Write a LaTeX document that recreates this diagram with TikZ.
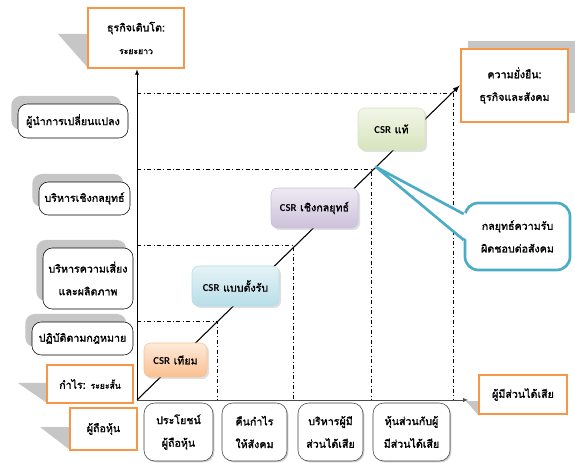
\documentclass[tikz,border=0pt]{standalone}
\usepackage{fontspec}
\newfontfamily\thaifont[Script=Thai, AutoFakeBold=1.6]{Loma}
\newfontfamily\csrfont{Carlito}
\usetikzlibrary{shadows}
\definecolor{boxorange}{HTML}{F79646}
\definecolor{calloutblue}{HTML}{4BACC6}
\definecolor{fakeA}{HTML}{FDEADA}
\definecolor{fakeB}{HTML}{FAC090}
\definecolor{reactA}{HTML}{E6F3F7}
\definecolor{reactB}{HTML}{B7DEE8}
\definecolor{stratA}{HTML}{EEEAF3}
\definecolor{stratB}{HTML}{CCC1DA}
\definecolor{realA}{HTML}{F2F6E9}
\definecolor{realB}{HTML}{D7E4BD}

\begin{document}
\begin{tikzpicture}
[x = 0.75pt, y = -0.75pt,
 every node/.style = {font=\thaifont\bfseries\fontsize{8}{17}\selectfont, align=center, inner sep=1pt},
 wh/.style 2 args = {minimum width=#1*0.75pt, minimum height=#2*0.75pt},
 axisbox/.style = {draw=boxorange, line width=2pt, fill=white},
 wedge/.style = {fill=gray!45},
 levelbox/.style = {draw=black, fill=white, rounded corners=7pt,
   drop shadow={shadow xshift=-5pt, shadow yshift=6pt, fill=gray!45, opacity=1}},
 stepbox/.style = {draw=black!75, fill=white, rounded corners=8pt,
   drop shadow={shadow xshift=1pt, shadow yshift=-1pt, fill=gray!40, opacity=1}},
 csrbox/.style 2 args = {top color=#1, bottom color=#2, draw=#2, rounded corners=5pt,
   drop shadow={shadow xshift=1.5pt, shadow yshift=-1.5pt, opacity=0.25}},
 grid/.style = {dash dot, thin}
 ]
\useasboundingbox (0,0) rectangle (575,463);
\fill [wedge] (58,34) -- (88,34) -- (88,68) -- cycle;
\fill [wedge] (468,41) rectangle (575,113);
\fill [wedge] (18,383) -- (47,383) -- (47,403) -- cycle;
\fill [wedge] (40,427) -- (70,427) -- (70,450) -- cycle;
\fill [wedge] (466,401) -- (479,401) -- (479,416) -- cycle;
\node [axisbox, wh={96}{60}] (grow) at (136,38) {ธุรกิจเติบโต:\\{\fontsize{6.5}{17}\selectfont ระยะยาว}};
\node [axisbox, wh={107}{73}] (sustain) at (514.5,85.5) {ความยั่งยืน:\\ธุรกิจและสังคม};
\node [axisbox, wh={86}{38}] (profit) at (90,384) {กำไร: {\fontsize{6.5}{10}\selectfont ระยะสั้น}};
\node [axisbox, wh={67}{42}] (holder) at (103.5,429) {ผู้ถือหุ้น};
\node [axisbox, wh={88}{39}] (stake) at (523,394.5) {ผู้มีส่วนได้เสีย};
\coordinate (O) at (137,400);
\coordinate (c1) at (217,321);
\coordinate (c2) at (293,245);
\coordinate (c3) at (371,169);
\coordinate (c4) at (453,93);
\draw [grid] (O |- c1) -- (c1) -- (c1 |- O);
\draw [grid] (O |- c2) -- (c2) -- (c2 |- O);
\draw [grid] (O |- c3) -- (c3) -- (c3 |- O);
\draw [grid] (O |- c4) -- (c4) -- (c4 |- O);
\draw [-latex] (O) -- (O |- grow.south);
\draw [-latex, black!70] (O) -- ([xshift=-7pt]stake.west |- O);
\draw [-latex, thick] (O) -- (sustain.west);
\node [csrbox={fakeA}{fakeB}, wh={63}{34}] (fake) at (175.5,360) {{\csrfont CSR} เทียม};
\node [csrbox={reactA}{reactB}, wh={87}{40}] (react) at (235.5,286) {{\csrfont CSR} แบบตั้งรับ};
\node [csrbox={stratA}{stratB}, wh={87}{40}] (stratcsr) at (314.5,208) {{\csrfont CSR} เชิงกลยุทธ์};
\node [csrbox={realA}{realB}, wh={67}{42}] (real) at (391.5,129) {{\csrfont CSR} แท้};
\coordinate (tip) at (376,167);
\node [draw=calloutblue, line width=2pt, fill=white, rounded corners=10pt, wh={105}{67}] (policy) at (517.5,236.5) {กลยุทธ์ความรับ\\ผิดชอบต่อสังคม};
\fill [white] (tip) -- (467,214) -- (467,240) -- cycle;
\draw [calloutblue, line width=2pt, line join=round] (policy.west |- 0,214) -- (tip) -- (policy.west |- 0,240);
\node [levelbox, wh={110}{34}] (leader) at (73,121) {ผู้นำการเปลี่ยนแปลง};
\node [levelbox, wh={91}{33}] (strat) at (84.5,198.5) {บริหารเชิงกลยุทธ์};
\node [levelbox, wh={90}{61}] (risk) at (88,278.5) {บริหารความเสี่ยง\\และผลิตภาพ};
\node [levelbox, wh={101}{33}] (law) at (82.5,338.5) {ปฏิบัติตามกฎหมาย};
\node [stepbox, wh={69}{58}] (gain) at (178.5,432) {ประโยชน์\\ผู้ถือหุ้น};
\node [stepbox, wh={65}{58}] (give) at (254.5,432) {คืนกำไร\\ให้สังคม};
\node [stepbox, wh={65}{58}] (manage) at (330.5,432) {บริหารผู้มี\\ส่วนได้เสีย};
\node [stepbox, wh={77}{58}] (partner) at (411.5,432) {หุ้นส่วนกับผู้\\มีส่วนได้เสีย};
\end{tikzpicture}
\end{document}
